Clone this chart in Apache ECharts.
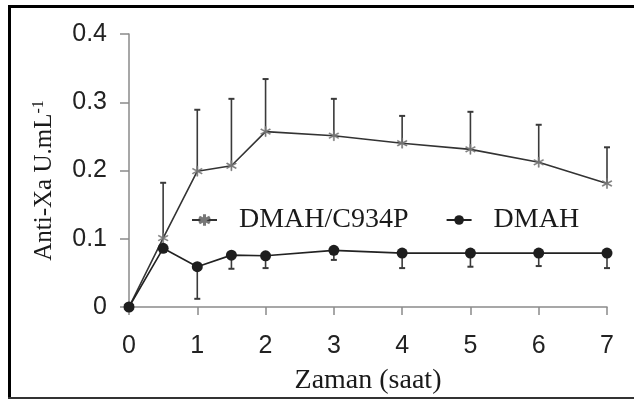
<!DOCTYPE html>
<html>
<head>
<meta charset="utf-8">
<script src="https://cdn.jsdelivr.net/npm/echarts@6/dist/echarts.min.js"></script>
<style>
html,body{margin:0;padding:0;background:#fff;}
#c{width:634px;height:400px;}
</style>
</head>
<body>
<div id="c"></div>
<script>
// Data
const hours = [0, 0.5, 1, 1.5, 2, 3, 4, 5, 6, 7];
const c934pMean  = [0, 0.101, 0.199, 0.207, 0.257, 0.251, 0.240, 0.231, 0.212, 0.181];
const c934pUpper = [0, 0.182, 0.289, 0.305, 0.334, 0.305, 0.280, 0.286, 0.267, 0.234];
const dmahMean   = [0, 0.086, 0.059, 0.076, 0.075, 0.083, 0.079, 0.079, 0.079, 0.079];
const dmahLower  = [0, 0.086, 0.012, 0.056, 0.057, 0.069, 0.057, 0.059, 0.060, 0.057];
const xTicks = [0, 1, 2, 3, 4, 5, 6, 7];
const yTicks = [0, 0.1, 0.2, 0.3, 0.4];
const seriesNames = ['DMAH/C934P', 'DMAH'];

const starPath = 'path://M4.5 0L5.5 0L5.5 10L4.5 10Z M9.58 2.93L9.08 2.07L0.42 7.07L0.92 7.93Z M9.08 7.93L9.58 7.07L0.92 2.07L0.42 2.93Z';

function errBar(x, a, b) { return [x, a, b]; }
const c934pErr = hours.map((h, i) => errBar(h, c934pMean[i], c934pUpper[i]));
const dmahErr = hours.map((h, i) => errBar(h, dmahMean[i], dmahLower[i]));

function renderErr(params, api) {
  const x = api.value(0);
  const p0 = api.coord([x, api.value(1)]);
  const p1 = api.coord([x, api.value(2)]);
  if (Math.abs(p0[1] - p1[1]) < 1) return null;
  const cap = 3;
  return {
    type: 'group',
    children: [
      { type: 'line', shape: { x1: p0[0], y1: p0[1], x2: p1[0], y2: p1[1] }, style: { stroke: '#3a3a3a', lineWidth: 1.6 } },
      { type: 'line', shape: { x1: p1[0] - cap, y1: p1[1], x2: p1[0] + cap, y2: p1[1] }, style: { stroke: '#3a3a3a', lineWidth: 2 } }
    ]
  };
}

const chart = echarts.init(document.getElementById('c'), null, { renderer: 'canvas' });
chart.setOption({
  backgroundColor: '#ffffff',
  animation: false,
  grid: { left: 129, right: 27, top: 34, bottom: 93, containLabel: false },
  legend: {
    data: seriesNames,
    left: 186,
    top: 201,
    itemWidth: 25,
    itemHeight: 12,
    itemGap: 37,
    textStyle: { fontFamily: 'Liberation Serif', fontSize: 28, color: '#1a1a1a', padding: [0, 0, 0, 17] }
  },
  xAxis: {
    type: 'value',
    min: 0, max: 7, interval: 1,
    name: 'Zaman (saat)',
    nameLocation: 'middle',
    nameGap: 60,
    nameTextStyle: { fontFamily: 'Liberation Serif', fontSize: 28, color: '#1a1a1a' },
    axisLine: { show: true, lineStyle: { color: '#8a8a8a', width: 1.5 } },
    axisTick: { show: true, length: 8, lineStyle: { color: '#8a8a8a', width: 1.5 } },
    axisLabel: { fontFamily: 'Liberation Sans', fontSize: 25, color: '#222', margin: 27,
      formatter: v => xTicks.includes(v) ? String(v) : '' },
    splitLine: { show: false }
  },
  yAxis: {
    type: 'value',
    min: 0, max: 0.4, interval: 0.1,
    name: 'Anti-Xa U.mL{s|-1}',
    nameLocation: 'middle',
    nameGap: 72,
    nameRotate: 90,
    nameTextStyle: { fontFamily: 'Liberation Serif', fontSize: 25, color: '#1a1a1a', padding: [0, 20, 0, 0],
      rich: { s: { fontFamily: 'Liberation Serif', fontSize: 16, color: '#1a1a1a', verticalAlign: 'top', padding: [0, 0, 10, 0] } } },
    axisLine: { show: true, lineStyle: { color: '#8a8a8a', width: 1.5 } },
    axisTick: { show: true, length: 9, lineStyle: { color: '#8a8a8a', width: 1.5 } },
    axisLabel: { fontFamily: 'Liberation Sans', fontSize: 25, color: '#222', margin: 22,
      formatter: v => { const t = yTicks.find(y => Math.abs(y - v) < 1e-9); return t === undefined ? '' : (t === 0 ? '0' : t.toFixed(1)); } },
    splitLine: { show: false }
  },
  series: [
    {
      name: seriesNames[0],
      type: 'line',
      data: hours.map((h, i) => [h, c934pMean[i]]),
      symbol: starPath,
      symbolSize: 10,
      showAllSymbol: true,
      lineStyle: { color: '#333', width: 1.6 },
      itemStyle: { color: '#777', borderColor: '#777', borderWidth: 0.5 },
      z: 3
    },
    {
      name: seriesNames[1],
      type: 'line',
      data: hours.map((h, i) => [h, dmahMean[i]]),
      symbol: 'circle',
      symbolSize: 11,
      showAllSymbol: true,
      lineStyle: { color: '#222', width: 1.6 },
      itemStyle: { color: '#1e1e1e' },
      z: 4
    },
    { type: 'custom', name: 'errA', renderItem: renderErr, data: c934pErr, z: 2, silent: true },
    { type: 'custom', name: 'errB', renderItem: renderErr, data: dmahErr, z: 2, silent: true }
  ],
  graphic: [
    { type: 'rect', shape: { x: 8, y: 5, width: 626, height: 3 }, style: { fill: '#000' }, z: 100 },
    { type: 'rect', shape: { x: 8, y: 5, width: 3, height: 394 }, style: { fill: '#000' }, z: 100 },
    { type: 'rect', shape: { x: 8, y: 397, width: 626, height: 2 }, style: { fill: '#333' }, z: 100 }
  ]
});
</script>
</body>
</html>
